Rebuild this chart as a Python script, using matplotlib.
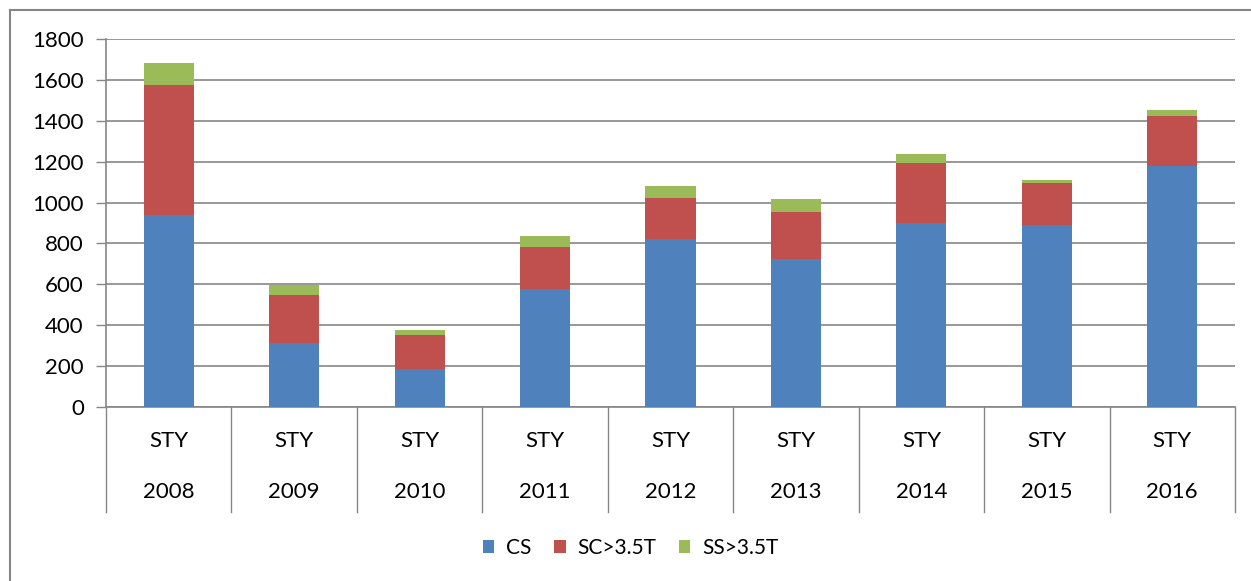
import matplotlib
matplotlib.use("Agg")
import matplotlib.pyplot as plt
from matplotlib.lines import Line2D
import numpy as np

years = ["2008", "2009", "2010", "2011", "2012", "2013", "2014", "2015", "2016"]
group = "STY"
cs = [940, 311, 187, 575, 824, 725, 901, 892, 1181]
sc = [636, 239, 167, 208, 200, 230, 294, 205, 240]
ss = [108, 48, 24, 54, 59, 64, 44, 15, 34]
series_names = ["CS", "SC>3.5T", "SS>3.5T"]
colors = ["#4F81BD", "#C0504D", "#9BBB59"]
yticks = [0, 200, 400, 600, 800, 1000, 1200, 1400, 1600, 1800]

plt.rcParams['font.family'] = ['Lato', 'DejaVu Sans']
grid_c = "#868686"
W, H = 1251, 581

fig = plt.figure(figsize=(W/100, H/100), dpi=100)
ax = fig.add_axes([106/W, 1-407/H, (1235-106)/W, (407-39)/H])

x = np.arange(len(years))
bottom = np.zeros(len(years))
for vals, name, c in zip([cs, sc, ss], series_names, colors):
    ax.bar(x, vals, width=0.4, bottom=bottom, color=c, label=name, zorder=3)
    bottom += np.array(vals)

ax.set_xlim(-0.5, len(years) - 0.5)
ax.set_ylim(0, 1800)
ax.set_yticks(yticks)
ax.set_yticklabels([str(v) for v in yticks], fontsize=16, color="#000000")
ax.tick_params(axis='y', length=7, color=grid_c, width=1, pad=9)
ax.yaxis.grid(True, color=grid_c, linewidth=1.2, zorder=0)
ax.set_axisbelow(True)
for s in ["top", "right"]:
    ax.spines[s].set_visible(False)
ax.spines["left"].set_color(grid_c)
ax.spines["bottom"].set_color(grid_c)
ax.spines["left"].set_linewidth(1.2)
ax.spines["bottom"].set_linewidth(1.2)
ax.set_xticks([])

# multi-level category axis
trans = ax.get_xaxis_transform()
h_axes = (407-39)
depth = (512-407) / h_axes
for b in np.arange(-0.5, len(years), 1.0):
    ax.add_line(Line2D([b, b], [0, -depth], transform=trans, color=grid_c,
                       linewidth=1, clip_on=False))
for i, yr in enumerate(years):
    ax.text(i, -(441-407)/h_axes, group, transform=trans, ha='center', va='center',
            fontsize=16, clip_on=False)
    ax.text(i, -(492-407)/h_axes, yr, transform=trans, ha='center', va='center',
            fontsize=16, clip_on=False)

leg = fig.legend(loc='center', bbox_to_anchor=(0.5 + 5/W, 1-548/H), ncol=3, frameon=False,
                 fontsize=15, handlelength=0.55, handleheight=0.55, columnspacing=1.1,
                 handletextpad=0.55)

# outer border (left and top only visible)
fig.add_artist(Line2D([10/W, 10/W], [0, 1-10/H], transform=fig.transFigure,
                      color=grid_c, linewidth=1.5))
fig.add_artist(Line2D([10/W, 1], [1-10/H, 1-10/H], transform=fig.transFigure,
                      color=grid_c, linewidth=1.5))

fig.savefig("out.png", dpi=100)
